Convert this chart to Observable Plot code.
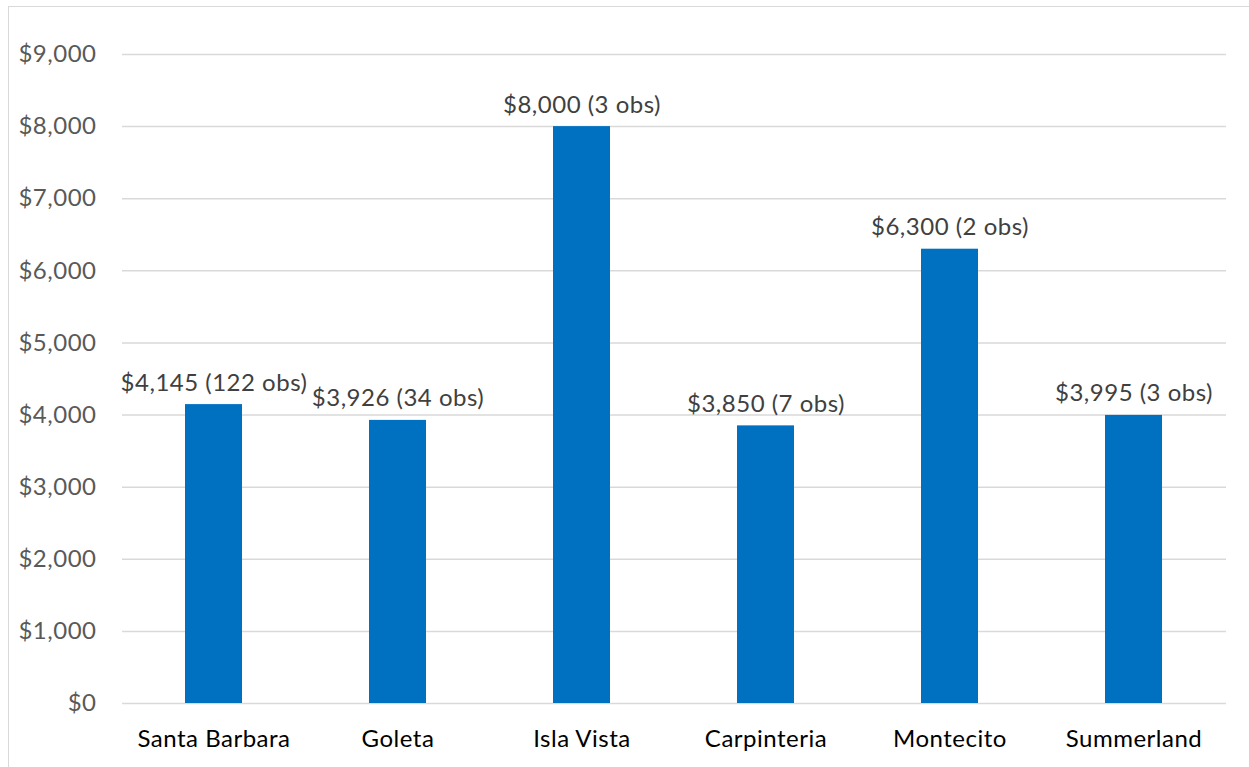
<!DOCTYPE html>
<html>
<head>
<meta charset="utf-8">
<script src="https://cdn.jsdelivr.net/npm/d3@7"></script>
<script src="https://cdn.jsdelivr.net/npm/@observablehq/plot@0.6"></script>
<style>
  html, body { margin: 0; padding: 0; background: #fff; overflow: hidden; }
  #wrap { position: relative; width: 1249px; height: 767px; }
  #border { position: absolute; left: 8px; top: 6px; right: -20px; bottom: -20px; border: 1.5px solid #d9d9d9; pointer-events: none; }
  #chart { position: absolute; left: 0; top: 0; }
  #chart svg text { letter-spacing: 0.5px; }
</style>
</head>
<body>
<div id="wrap"><div id="chart"></div><div id="border"></div></div>
<script>
const towns = ["Santa Barbara", "Goleta", "Isla Vista", "Carpinteria", "Montecito", "Summerland"];
const rents = [4145, 3926, 8000, 3850, 6300, 3995];
const obs = [122, 34, 3, 7, 2, 3];
const yTicks = [0, 1000, 2000, 3000, 4000, 5000, 6000, 7000, 8000, 9000];

const data = towns.map((t, i) => ({ town: t, rent: rents[i], obs: obs[i] }));
const fmt = d3.format(",");

const chart = Plot.plot({
  width: 1249,
  height: 767,
  marginLeft: 122,
  marginRight: 23,
  marginTop: 54,
  marginBottom: 64,
  style: { fontFamily: "Lato, 'Open Sans', sans-serif", fontSize: "24px", background: "transparent" },
  x: { domain: towns, paddingInner: 0.69, paddingOuter: 0.345, label: null },
  y: { domain: [0, 9000], label: null },
  marks: [
    Plot.gridY(yTicks, { stroke: "#d9d9d9", strokeOpacity: 1, strokeWidth: 1.5 }),
    Plot.barY(data, { x: "town", y: "rent", fill: "#0070c0" }),
    Plot.text(data, {
      x: "town", y: "rent",
      text: d => `$${fmt(d.rent)} (${d.obs} obs)`,
      lineAnchor: "bottom", dy: -14, fill: "#404040", fontSize: 24
    }),
    Plot.axisY(yTicks, {
      tickSize: 0, tickPadding: 26, fill: "#595959", fontSize: 24,
      tickFormat: d => "$" + fmt(d), label: null
    }),
    Plot.axisX({ tickSize: 0, tickPadding: 26, fill: "#000", fontSize: 24, label: null })
  ]
});
document.getElementById("chart").appendChild(chart);
</script>
</body>
</html>
